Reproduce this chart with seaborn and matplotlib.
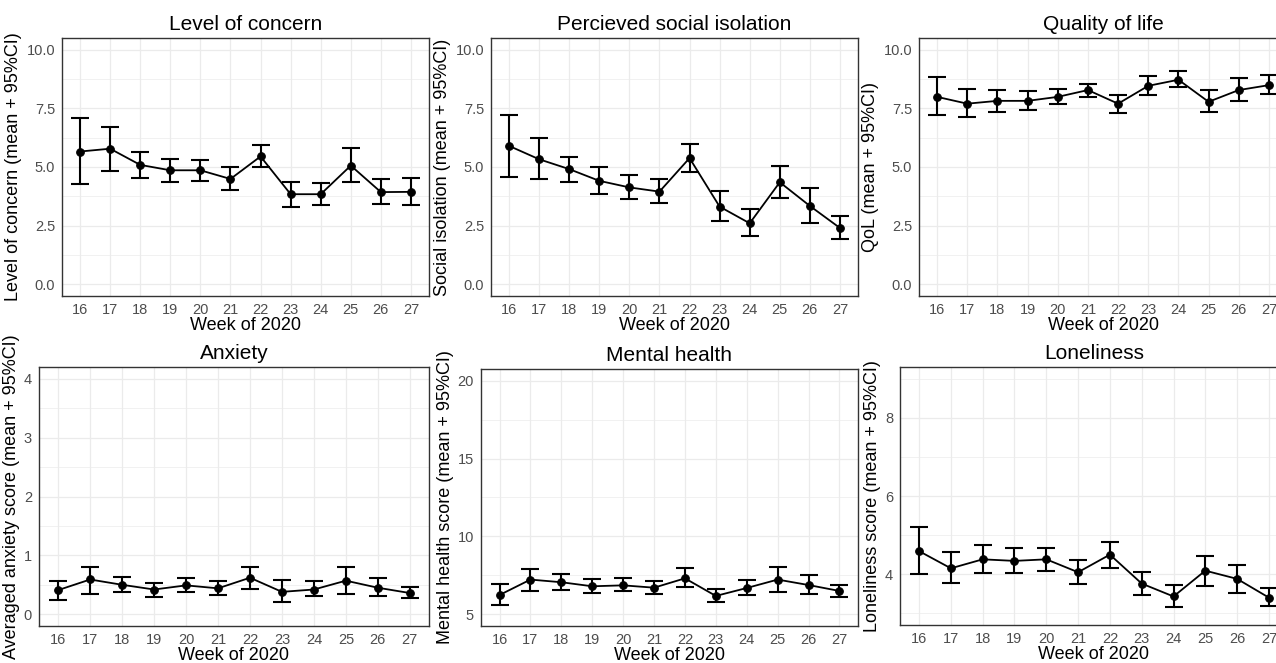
import numpy as np
import pandas as pd
import matplotlib
matplotlib.use("Agg")
import matplotlib.pyplot as plt
import seaborn as sns

weeks = [16, 17, 18, 19, 20, 21, 22, 23, 24, 25, 26, 27]

concern_mean = [5.66, 5.78, 5.09, 4.86, 4.86, 4.49, 5.45, 3.84, 3.84, 5.06, 3.93, 3.94]
concern_lo   = [4.27, 4.82, 4.55, 4.38, 4.42, 4.01, 4.98, 3.29, 3.39, 4.34, 3.41, 3.40]
concern_hi   = [7.10, 6.69, 5.62, 5.33, 5.31, 5.02, 5.93, 4.38, 4.32, 5.82, 4.47, 4.54]

isolation_mean = [5.90, 5.33, 4.91, 4.41, 4.13, 3.95, 5.38, 3.31, 2.60, 4.35, 3.34, 2.40]
isolation_lo   = [4.59, 4.48, 4.38, 3.83, 3.63, 3.46, 4.77, 2.70, 2.05, 3.66, 2.63, 1.92]
isolation_hi   = [7.21, 6.23, 5.43, 4.98, 4.65, 4.47, 5.96, 3.97, 3.19, 5.06, 4.10, 2.89]

qol_mean = [7.99, 7.70, 7.82, 7.82, 7.99, 8.28, 7.70, 8.46, 8.72, 7.78, 8.28, 8.49]
qol_lo   = [7.20, 7.13, 7.34, 7.41, 7.68, 7.98, 7.31, 8.07, 8.39, 7.35, 7.81, 8.11]
qol_hi   = [8.85, 8.32, 8.29, 8.22, 8.32, 8.56, 8.09, 8.88, 9.08, 8.29, 8.78, 8.92]

anxiety_mean = [0.41, 0.59, 0.50, 0.42, 0.49, 0.44, 0.62, 0.38, 0.42, 0.57, 0.45, 0.36]
anxiety_lo   = [0.24, 0.35, 0.38, 0.30, 0.38, 0.33, 0.43, 0.20, 0.31, 0.35, 0.31, 0.27]
anxiety_hi   = [0.57, 0.80, 0.64, 0.53, 0.61, 0.57, 0.80, 0.58, 0.57, 0.81, 0.62, 0.47]

mental_mean = [6.24, 7.23, 7.06, 6.80, 6.86, 6.71, 7.31, 6.18, 6.69, 7.23, 6.88, 6.50]
mental_lo   = [5.62, 6.52, 6.56, 6.35, 6.48, 6.31, 6.73, 5.81, 6.22, 6.43, 6.31, 6.11]
mental_hi   = [6.95, 7.93, 7.57, 7.29, 7.31, 7.14, 8.00, 6.63, 7.21, 8.04, 7.55, 6.91]

lonely_mean = [4.59, 4.15, 4.38, 4.34, 4.38, 4.05, 4.50, 3.76, 3.43, 4.09, 3.88, 3.40]
lonely_lo   = [4.00, 3.78, 4.02, 4.02, 4.09, 3.75, 4.15, 3.48, 3.16, 3.69, 3.53, 3.19]
lonely_hi   = [5.21, 4.56, 4.75, 4.68, 4.68, 4.36, 4.83, 4.06, 3.72, 4.47, 4.24, 3.65]

titles = ["Level of concern", "Percieved social isolation", "Quality of life",
          "Anxiety", "Mental health", "Loneliness"]
ylabels = ["Level of concern (mean + 95%CI)", "Social isolation (mean + 95%CI)",
           "QoL (mean + 95%CI)", "Averaged anxiety score (mean + 95%CI)",
           "Mental health score (mean + 95%CI)", "Loneliness score (mean + 95%CI)"]
xlabel = "Week of 2020"

sns.set_style("white")
plt.rcParams["font.family"] = ["Liberation Sans", "DejaVu Sans"]

W, H = 1276, 663
fig = plt.figure(figsize=(W / 100, H / 100), dpi=100)

# pixel boxes: left, top, right, bottom
boxes = [(62, 38, 429, 296), (491, 38, 858, 296), (919, 38, 1287, 296),
         (39, 367, 429, 626), (481, 369, 858, 626), (900, 367, 1288, 625)]

series = [(concern_mean, concern_lo, concern_hi),
          (isolation_mean, isolation_lo, isolation_hi),
          (qol_mean, qol_lo, qol_hi),
          (anxiety_mean, anxiety_lo, anxiety_hi),
          (mental_mean, mental_lo, mental_hi),
          (lonely_mean, lonely_lo, lonely_hi)]

ylims = [(-0.5, 10.5), (-0.5, 10.5), (-0.5, 10.5), (-0.2, 4.2), (4.25, 20.75), (2.7, 9.3)]
majors = [[0, 2.5, 5, 7.5, 10]] * 3 + [[0, 1, 2, 3, 4], [5, 10, 15, 20], [4, 6, 8]]
minors = [[1.25, 3.75, 6.25, 8.75]] * 3 + [[0.5, 1.5, 2.5, 3.5], [7.5, 12.5, 17.5], [3, 5, 7, 9]]
fmts = ["{:.1f}"] * 3 + ["{:g}"] * 3

for i, (box, (m, lo, hi)) in enumerate(zip(boxes, series)):
    l, t, r, b = box
    ax = fig.add_axes([l / W, 1 - b / H, (r - l) / W, (b - t) / H])
    df = pd.DataFrame({"week": weeks, "mean": m, "lo": lo, "hi": hi})
    m_arr = np.array(m); lo_arr = np.array(lo); hi_arr = np.array(hi)
    ax.errorbar(df["week"], m_arr, yerr=[m_arr - lo_arr, hi_arr - m_arr], fmt="none",
                ecolor="black", elinewidth=1.5, capsize=6.5, capthick=1.5, zorder=3)
    sns.lineplot(data=df, x="week", y="mean", ax=ax, color="black", linewidth=1.3,
                 marker="o", markersize=5.5, markeredgecolor="black", zorder=4)
    ax.set_xlim(15.4, 27.6)
    ax.set_ylim(*ylims[i])
    ax.set_xticks(weeks)
    ax.set_xticklabels([str(w) for w in weeks])
    ax.set_yticks(majors[i])
    ax.set_yticklabels([fmts[i].format(v) for v in majors[i]])
    ax.set_yticks(minors[i], minor=True)
    ax.grid(True, which="major", color="#EBEBEB", linewidth=0.9, zorder=0)
    ax.grid(True, which="minor", axis="y", color="#EBEBEB", linewidth=0.5, zorder=0)
    ax.set_axisbelow(True)
    for s in ax.spines.values():
        s.set_color("#333333")
        s.set_linewidth(1.0)
    ax.tick_params(axis="both", which="major", length=3, width=0.8, color="#333333",
                   labelsize=10.5, labelcolor="#4D4D4D", pad=2)
    ax.tick_params(axis="y", which="minor", length=0)
    ax.set_title(titles[i], fontsize=15, pad=6, color="black")
    ax.set_xlabel(xlabel, fontsize=13, labelpad=0, color="black")
    ax.set_ylabel(ylabels[i], fontsize=13, labelpad=3, color="black")

fig.savefig("out.png", dpi=100, facecolor="white")
